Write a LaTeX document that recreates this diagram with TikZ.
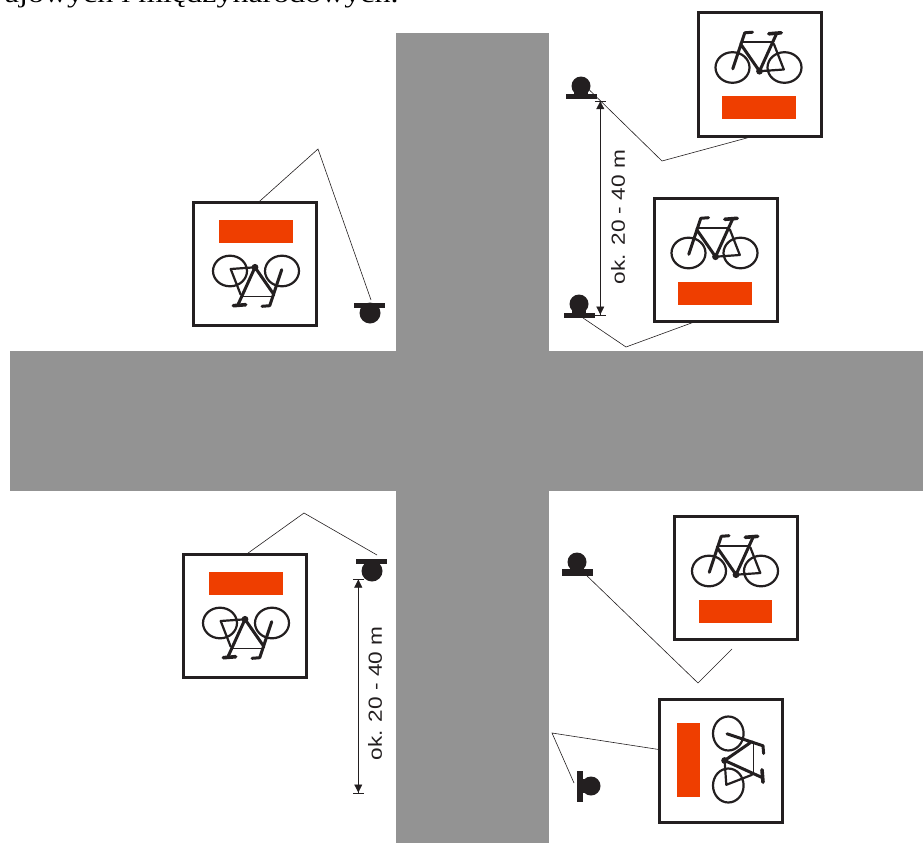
\documentclass[tikz,border=0pt]{standalone}
\usepackage{fontspec}
\setmainfont{Liberation Serif}
\newfontfamily\dimfont[FakeStretch=1.19]{Liberation Sans}
\newfontfamily\capfont[FakeStretch=1.25]{Liberation Serif}
\usetikzlibrary{arrows.meta, positioning}
\definecolor{roadgray}{HTML}{939393}
\definecolor{signred}{HTML}{EF3E00}
\definecolor{signblack}{HTML}{231F20}

\begin{document}
\begin{tikzpicture}[
      x=1pt, y=-1pt,
      every node/.style={inner sep=0pt, outer sep=0pt},
      signbox/.style={rectangle, draw=signblack, line width=3pt, fill=white, minimum size=123pt},
      lampbar/.style={rectangle, fill=signblack, minimum width=31pt, minimum height=5pt},
      lamphead/.style={circle, fill=signblack, minimum size=19pt},
      wire/.style={line width=0.6pt, draw=signblack},
      dimline/.style={{Bar[width=11pt,line width=0.5pt,sep=0pt]Triangle[length=8pt,width=8pt,sep=0pt]}-{Triangle[length=8pt,width=8pt,sep=0pt]Bar[width=11pt,line width=0.5pt,sep=0pt]}, line width=0.5pt, draw=signblack!70, color=signblack},
      dimlabel/.style={font=\dimfont\fontsize{19}{19}\selectfont, rotate=90, text=signblack},
      bike/.pic={
        \draw[signblack, line width=2.2pt, line cap=round, line join=round]
          (-27,-7) ellipse [x radius=17, y radius=15.3]
          (25,-7) ellipse [x radius=17, y radius=15.3]
          (14.3,-30.7) -- (24.3,-5) -- (0,-3.3);
        \draw[signblack, line width=1.6pt, line cap=round]
          (-17.3,-32.3) -- (12.7,-32.3);
        \draw[signblack, line width=3pt, line cap=round, line join=round]
          (-26.7,-5.7) -- (-14.7,-41.7) -- (-7,-42.3)
          (-19,-30.7) -- (0,-3.3) -- (17,-40.7);
        \draw[signblack, line width=3.6pt, line cap=round]
          (9.3,-40.7) -- (21.7,-41.7);
        \fill[signblack] (0,-3.3) circle (3.4);
        \fill[signred] (-37.5,21.5) rectangle (36,44.5);
      }
    ]
      \clip (0,0) rectangle (923,843);
      \node[anchor=base west, font=\capfont\fontsize{25.6}{26}\selectfont] (caption) at (5,3) {ajowych i międzynarodowych.};

      % road
      \fill[roadgray] (396,33) rectangle (549,843);
      \fill[roadgray] (10,351) rectangle (923,491);

      % signs
      \node[signbox] (signA) at (759.5,74.5) {};
      \node[signbox] (signB) at (715.5,260) {};
      \node[signbox] (signC) at (255,264) {};
      \node[signbox] (signD) at (245,616) {};
      \node[signbox] (signE) at (736,578) {};
      \node[signbox] (signF) at (721.3,760.5) {};
      \pic at (signA) {bike};
      \pic at (signB) {bike};
      \pic[rotate=180] at (signC) {bike};
      \pic[rotate=180] at (signD) {bike};
      \pic at (signE) {bike};
      \pic[rotate=-90] at (signF) {bike};

      % lamps
      \node[lamphead] (headA) at (581,86) {};
      \node[lampbar] (lampA) at (581.5,96.5) {};
      \node[lamphead] (headB) at (579,304) {};
      \node[lampbar] (lampB) at (579.5,315.5) {};
      \node[lamphead, minimum size=21pt] (headC) at (370,313) {};
      \node[lampbar] (lampC) at (369.5,305.5) {};
      \node[lamphead, minimum size=21pt] (headD) at (372,571) {};
      \node[lampbar] (lampD) at (371.5,561) {};
      \node[lamphead] (headE) at (577,562) {};
      \node[lampbar, minimum height=7pt] (lampE) at (577.5,572.5) {};
      \node[lamphead] (headF) at (591,786) {};
      \node[lampbar, minimum width=6pt, minimum height=31pt] (lampF) at (580,786.5) {};
      \foreach \n in {A,B,C,D,E}
        \fill[signblack] ([xshift=-7pt]head\n.center) rectangle ([xshift=7pt]head\n.center |- lamp\n.center);
      \fill[signblack] ([yshift=-7pt]headF.center) rectangle ([yshift=7pt]headF.center -| lampF.center);

      % bends and free ends
      \coordinate (bendA) at (662,161);
      \coordinate (bendB) at (626,347);
      \coordinate (bendC) at (318,149);
      \coordinate (bendD) at (304,513);
      \coordinate (bendE) at (698,683);
      \coordinate (bendF) at (552,733);
      \coordinate (endC) at (371,300);
      \coordinate (endD) at (377,555);
      \coordinate (endE) at (732,649);
      \coordinate (endF) at (574,783);

      \draw[wire] (headA.-26) -- (bendA) -- (signA.-95);
      \draw[wire] (lampB.-35) -- (bendB) -- (signB.-108);
      \draw[wire] (signC.87) -- (bendC) -- (endC);
      \draw[wire] (signD.89) -- (bendD) -- (endD);
      \draw[wire] (lampE.-20) -- (bendE) -- (endE);
      \draw[wire] (signF.170) -- (bendF) -- (endF);

      % distances
      \coordinate (dimAtop) at (600.3,100.7);
      \coordinate (dimAbot) at (600.3,315);
      \coordinate (dimBtop) at (358.3,579);
      \coordinate (dimBbot) at (358.3,793);
      \draw[dimline] (dimAtop) -- (dimAbot);
      \draw[dimline] (dimBtop) -- (dimBbot);
      \node[dimlabel] (labelA) at (618,217) {ok. 20 - 40 m};
      \node[dimlabel] (labelB) at (375,693.5) {ok. 20 - 40 m};
    \end{tikzpicture}
\end{document}
